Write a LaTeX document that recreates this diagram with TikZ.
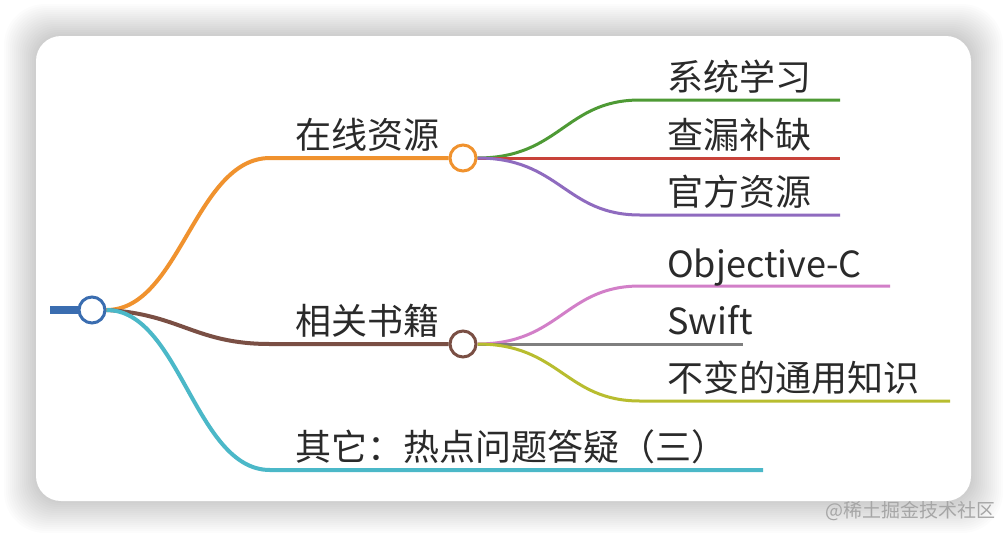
\documentclass[tikz,border=0pt]{standalone}
\usepackage{fontspec}
\setmainfont{Noto Sans CJK SC}
\definecolor{cblue}{HTML}{3A6DB0}
\definecolor{corange}{HTML}{F0922E}
\definecolor{cbrown}{HTML}{7A4F44}
\definecolor{ccyan}{HTML}{4BB8C8}
\definecolor{cgreen}{HTML}{4E9A35}
\definecolor{cred}{HTML}{C8423A}
\definecolor{cpurple}{HTML}{8F6BBF}
\definecolor{cpink}{HTML}{D27FC8}
\definecolor{cgray}{HTML}{7F7F7F}
\definecolor{colive}{HTML}{B8BD2F}
\definecolor{ctext}{HTML}{2A2A2A}
\tikzset{
 lbl/.style={anchor=base west, inner sep=0pt, font=\fontsize{36}{42}\selectfont, text=ctext},
 br/.style={line width=4pt},
 sub/.style={line width=3pt},
 hub/.style={circle, draw, line width=3pt, fill=white, minimum size=26pt, inner sep=0pt},
}
\begin{document}
\begin{tikzpicture}[x=1pt,y=-1pt]
\useasboundingbox (0,0) rectangle (1008,538);
\fill[white] (0,0) rectangle (1008,538);
% shadow
\foreach \i in {1,...,16}{
  \fill[black, opacity=0.010, rounded corners=25+\i] (36-2*\i,36-2*\i) rectangle (971+2*\i,501+2*\i);
}
\fill[white, rounded corners=25] (36,36) rectangle (971,501);
% watermark
\node[anchor=center, inner sep=0pt, font=\fontsize{19}{22}\selectfont, text=black!35] (wm) at (910,511) {@稀土掘金技术社区};

% root
\node[hub, draw=cblue] (root) at (92,310) {};
\coordinate (rs) at (50,310);
\draw[cblue, line width=8pt] (rs) -- (root.west);

% hubs
\node[hub, draw=corange] (h1) at (463,158) {};
\node[hub, draw=cbrown] (h2) at (463,344) {};

\coordinate (a1) at (270,158);
\coordinate (a2) at (270,344);
\coordinate (a3) at (270,470);
\coordinate (e3) at (763,470);

\draw[br, corange] (root.east) .. controls (180,310) and (195,158) .. (a1) -- (h1.west);
\draw[br, cbrown] (root.east) .. controls (180,314) and (195,344) .. (a2) -- (h2.west);
\draw[br, ccyan] (root.east) .. controls (180,310) and (195,470) .. (a3) -- (e3);

\node[lbl] (t1) at (295,148) {在线资源};
\node[lbl] (t2) at (295,334) {相关书籍};
\node[lbl] (t3) at (295,460) {其它：热点问题答疑（三）};

% children of h1
\coordinate (b1) at (640,100);
\coordinate (c1) at (840,100);
\coordinate (c2) at (840,158);
\coordinate (b3) at (640,215);
\coordinate (c3) at (840,215);
\draw[sub, cgreen] (h1.east) .. controls (560,158) and (565,100) .. (b1) -- (c1);
\draw[sub, cred] (h1.east) -- (c2);
\draw[sub, cpurple] (h1.east) .. controls (560,158) and (565,215) .. (b3) -- (c3);
\node[lbl] (s1) at (667,90) {系统学习};
\node[lbl] (s2) at (667,148) {查漏补缺};
\node[lbl] (s3) at (667,205) {官方资源};

% children of h2
\coordinate (d1) at (640,286);
\coordinate (f1) at (890,286);
\coordinate (f2) at (743,344);
\coordinate (d3) at (640,401);
\coordinate (f3) at (950,401);
\draw[sub, cpink] (h2.east) .. controls (560,344) and (565,286) .. (d1) -- (f1);
\draw[sub, cgray] (h2.east) -- (f2);
\draw[sub, colive] (h2.east) .. controls (560,344) and (565,401) .. (d3) -- (f3);
\node[lbl] (u1) at (667,277) {Objective-C};
\node[lbl] (u2) at (667,334) {Swift};
\node[lbl] (u3) at (667,391) {不变的通用知识};
\end{tikzpicture}
\end{document}
